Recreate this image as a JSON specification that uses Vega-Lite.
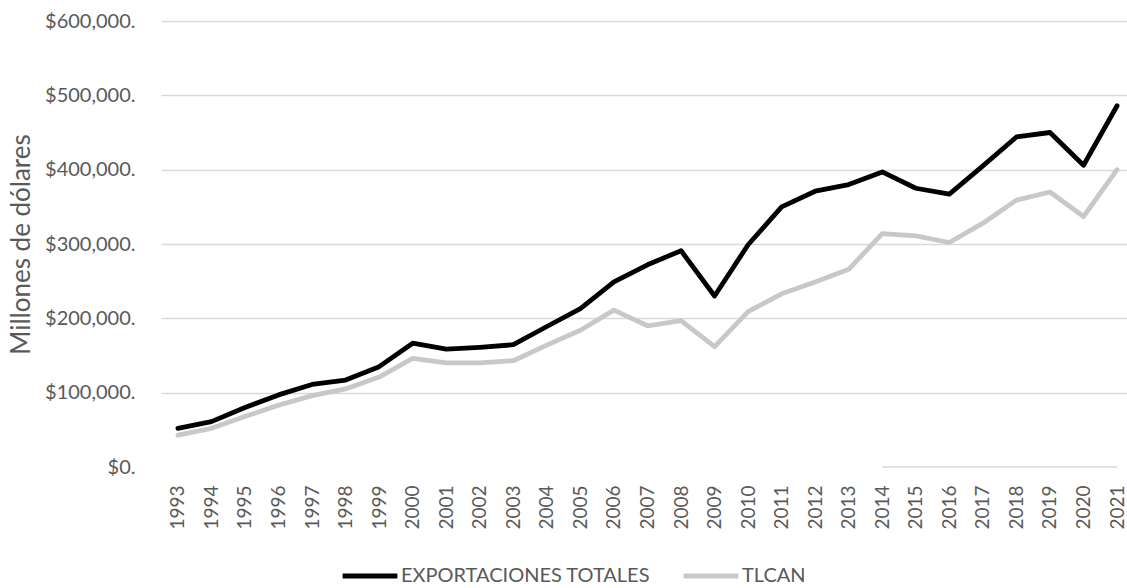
{
  "$schema": "https://vega.github.io/schema/vega-lite/v6.json",
  "width": 966,
  "height": 446,
  "autosize": {"type": "none"},
  "padding": {"left": 161, "top": 21, "right": 0, "bottom": 121},
  "config": {
    "view": {"stroke": null},
    "font": "Lato",
    "axis": {"labelColor": "#595959", "titleColor": "#595959", "labelFont": "Lato", "titleFont": "Lato"}
  },
  "datasets": {
    "series": [
      {"year": "1993", "serie": "EXPORTACIONES TOTALES", "value": 52000},
      {"year": "1994", "serie": "EXPORTACIONES TOTALES", "value": 61000},
      {"year": "1995", "serie": "EXPORTACIONES TOTALES", "value": 80000},
      {"year": "1996", "serie": "EXPORTACIONES TOTALES", "value": 97000},
      {"year": "1997", "serie": "EXPORTACIONES TOTALES", "value": 111000},
      {"year": "1998", "serie": "EXPORTACIONES TOTALES", "value": 117000},
      {"year": "1999", "serie": "EXPORTACIONES TOTALES", "value": 135000},
      {"year": "2000", "serie": "EXPORTACIONES TOTALES", "value": 166500},
      {"year": "2001", "serie": "EXPORTACIONES TOTALES", "value": 158500},
      {"year": "2002", "serie": "EXPORTACIONES TOTALES", "value": 161000},
      {"year": "2003", "serie": "EXPORTACIONES TOTALES", "value": 164500},
      {"year": "2004", "serie": "EXPORTACIONES TOTALES", "value": 189000},
      {"year": "2005", "serie": "EXPORTACIONES TOTALES", "value": 213000},
      {"year": "2006", "serie": "EXPORTACIONES TOTALES", "value": 249000},
      {"year": "2007", "serie": "EXPORTACIONES TOTALES", "value": 272000},
      {"year": "2008", "serie": "EXPORTACIONES TOTALES", "value": 291000},
      {"year": "2009", "serie": "EXPORTACIONES TOTALES", "value": 230000},
      {"year": "2010", "serie": "EXPORTACIONES TOTALES", "value": 299000},
      {"year": "2011", "serie": "EXPORTACIONES TOTALES", "value": 350000},
      {"year": "2012", "serie": "EXPORTACIONES TOTALES", "value": 371000},
      {"year": "2013", "serie": "EXPORTACIONES TOTALES", "value": 380000},
      {"year": "2014", "serie": "EXPORTACIONES TOTALES", "value": 397000},
      {"year": "2015", "serie": "EXPORTACIONES TOTALES", "value": 375000},
      {"year": "2016", "serie": "EXPORTACIONES TOTALES", "value": 367000},
      {"year": "2017", "serie": "EXPORTACIONES TOTALES", "value": 405000},
      {"year": "2018", "serie": "EXPORTACIONES TOTALES", "value": 444000},
      {"year": "2019", "serie": "EXPORTACIONES TOTALES", "value": 450000},
      {"year": "2020", "serie": "EXPORTACIONES TOTALES", "value": 406000},
      {"year": "2021", "serie": "EXPORTACIONES TOTALES", "value": 486000},
      {"year": "1993", "serie": "TLCAN", "value": 43000},
      {"year": "1994", "serie": "TLCAN", "value": 52000},
      {"year": "1995", "serie": "TLCAN", "value": 68000},
      {"year": "1996", "serie": "TLCAN", "value": 83000},
      {"year": "1997", "serie": "TLCAN", "value": 96000},
      {"year": "1998", "serie": "TLCAN", "value": 105000},
      {"year": "1999", "serie": "TLCAN", "value": 121000},
      {"year": "2000", "serie": "TLCAN", "value": 146000},
      {"year": "2001", "serie": "TLCAN", "value": 140000},
      {"year": "2002", "serie": "TLCAN", "value": 140000},
      {"year": "2003", "serie": "TLCAN", "value": 143000},
      {"year": "2004", "serie": "TLCAN", "value": 164000},
      {"year": "2005", "serie": "TLCAN", "value": 184000},
      {"year": "2006", "serie": "TLCAN", "value": 211000},
      {"year": "2007", "serie": "TLCAN", "value": 190000},
      {"year": "2008", "serie": "TLCAN", "value": 197000},
      {"year": "2009", "serie": "TLCAN", "value": 162000},
      {"year": "2010", "serie": "TLCAN", "value": 209000},
      {"year": "2011", "serie": "TLCAN", "value": 233000},
      {"year": "2012", "serie": "TLCAN", "value": 249000},
      {"year": "2013", "serie": "TLCAN", "value": 266000},
      {"year": "2014", "serie": "TLCAN", "value": 314000},
      {"year": "2015", "serie": "TLCAN", "value": 311000},
      {"year": "2016", "serie": "TLCAN", "value": 302000},
      {"year": "2017", "serie": "TLCAN", "value": 328000},
      {"year": "2018", "serie": "TLCAN", "value": 359000},
      {"year": "2019", "serie": "TLCAN", "value": 370000},
      {"year": "2020", "serie": "TLCAN", "value": 337000},
      {"year": "2021", "serie": "TLCAN", "value": 400000}
    ],
    "zeroline": [
      {"from": "2014", "to": "2021", "value": 0}
    ]
  },
  "layer": [
    {
      "data": {"name": "zeroline"},
      "mark": {"type": "rule", "color": "#d9d9d9", "strokeWidth": 1.5},
      "encoding": {
        "x": {"field": "from", "type": "ordinal"},
        "x2": {"field": "to"},
        "y": {"field": "value", "type": "quantitative"}
      }
    },
    {
      "data": {"name": "series"},
      "mark": {"type": "line", "strokeWidth": 4.8, "strokeJoin": "round", "strokeCap": "round"},
      "encoding": {
        "x": {
          "field": "year",
          "type": "ordinal",
          "scale": {"type": "point", "padding": 0.4, "align": 0.63},
          "axis": {"title": null, "labelAngle": -90, "labelFontSize": 19, "labelPadding": 18, "ticks": false, "domain": false, "grid": false}
        },
        "y": {
          "field": "value",
          "type": "quantitative",
          "scale": {"domain": [0, 600000]},
          "axis": {
            "title": "Millones de dólares",
            "titleFontSize": 26,
            "titleFontWeight": "normal",
            "titlePadding": 10,
            "values": [0, 100000, 200000, 300000, 400000, 500000, 600000],
            "labelExpr": "'$' + format(datum.value, ',') + '.'",
            "labelFontSize": 20,
            "labelPadding": 26,
            "ticks": false,
            "domain": false,
            "grid": true,
            "gridColor": "#d9d9d9",
            "gridWidth": 1.5,
            "gridOpacity": {"condition": {"test": "datum.value === 0", "value": 0}, "value": 1}
          }
        },
        "color": {
          "field": "serie",
          "type": "nominal",
          "scale": {"domain": ["EXPORTACIONES TOTALES", "TLCAN"], "range": ["#000000", "#c8c8c8"]},
          "legend": {
            "title": null,
            "orient": "none",
            "direction": "horizontal",
            "legendX": 179,
            "legendY": 525,
            "symbolType": "stroke",
            "symbolSize": 3000,
            "symbolStrokeWidth": 5,
            "labelFontSize": 20,
            "labelColor": "#595959",
            "labelOffset": 1,
            "columnPadding": 22,
            "labelLimit": 400
          }
        },
        "zIndex": {"field": "serie"},
        "order": {"field": "year"}
      }
    }
  ]
}
